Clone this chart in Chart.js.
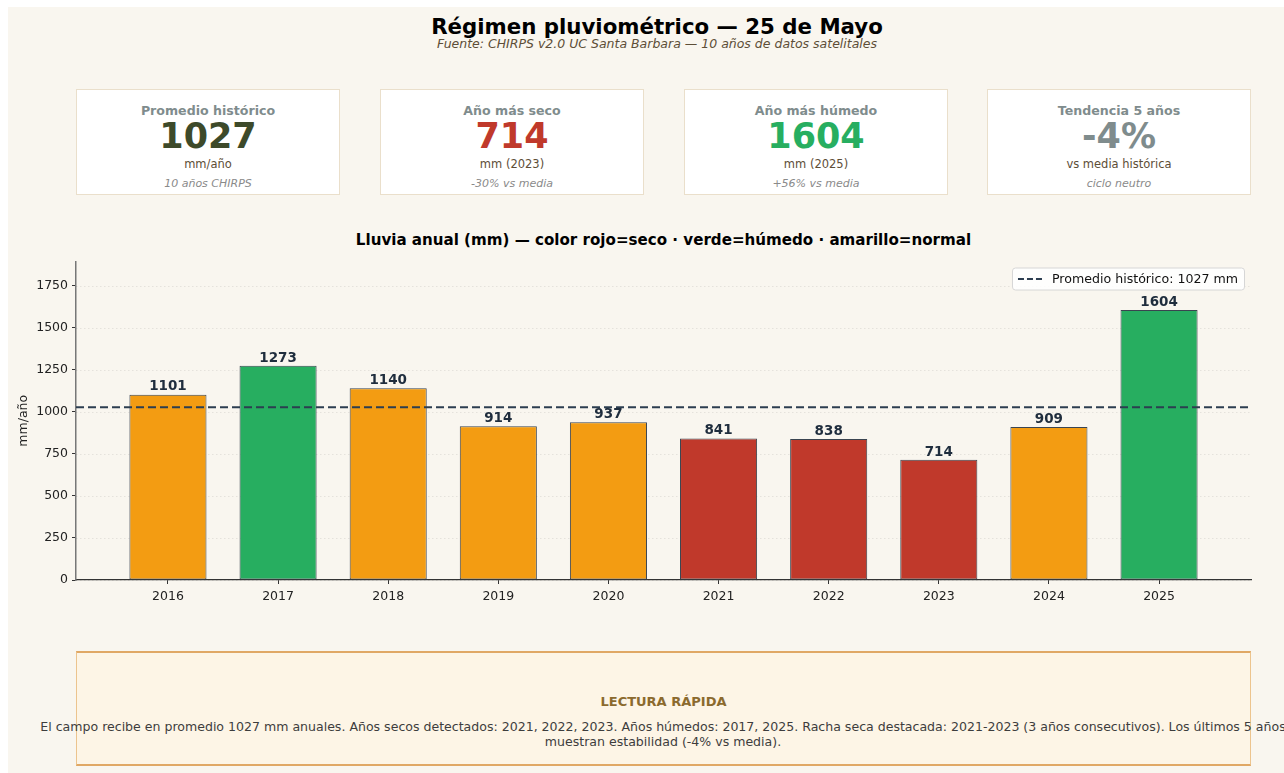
<!DOCTYPE html>
<html lang="es">
<head>
  <meta charset="UTF-8">
  <title>Régimen pluviométrico — 25 de Mayo</title>
  <script src="https://cdn.jsdelivr.net/npm/chart.js"></script>
  <style>
    body { margin: 0; background: #ffffff; font-family: "DejaVu Sans", sans-serif; }
    #page { position: relative; width: 1284px; height: 773px; overflow: hidden; }
    #panel { position: absolute; left: 8px; top: 7px; width: 1290px; height: 780px; background: #f9f6ef; }
    .abs { position: absolute; white-space: nowrap; text-align: center; }
    .card { position: absolute; top: 89px; width: 264px; height: 106px; background: #fff; border: 1px solid #eadfcb; box-sizing: border-box; }
    .card div { position: absolute; left: 0; right: 0; text-align: center; white-space: nowrap; }
    .lbl { top: 12px; font-weight: bold; font-size: 12.6px; color: #7f8c8d; line-height: 18px; }
    .big { top: 26px; font-weight: bold; font-size: 35px; line-height: 40px; }
    .unit { top: 66px; font-size: 11.5px; color: #5d4e37; line-height: 16px; }
    .note { top: 87px; font-size: 11px; font-style: italic; color: #8a8a8a; line-height: 14px; }
    #summary { position: absolute; left: 76px; top: 651px; width: 1175px; height: 115px; background: #fdf5e6;
      border: 1px solid #ecc48e; border-top: 2px solid #e0a865; border-bottom: 2px solid #e0a865; box-sizing: border-box; }
    #chartWrap { position: absolute; left: 0; top: 250px; width: 1284px; height: 380px; }
  </style>
</head>
<body>
<div id="page">
  <div id="panel"></div>

  <div class="abs" style="left:0;width:1314px;top:13px;line-height:28px;font-size:21.3px;font-weight:bold;color:#000;">Régimen pluviométrico — 25 de Mayo</div>
  <div class="abs" style="left:0;width:1314px;top:36px;line-height:16px;font-size:12.5px;font-style:italic;color:#5d4e37;">Fuente: CHIRPS v2.0 UC Santa Barbara — 10 años de datos satelitales</div>

  <div class="card" style="left:76px;">
    <div class="lbl">Promedio histórico</div>
    <div class="big" style="color:#3d4a2a;">1027</div>
    <div class="unit">mm/año</div>
    <div class="note">10 años CHIRPS</div>
  </div>
  <div class="card" style="left:380px;">
    <div class="lbl">Año más seco</div>
    <div class="big" style="color:#c0392b;">714</div>
    <div class="unit">mm (2023)</div>
    <div class="note">-30% vs media</div>
  </div>
  <div class="card" style="left:684px;">
    <div class="lbl">Año más húmedo</div>
    <div class="big" style="color:#27ae60;">1604</div>
    <div class="unit">mm (2025)</div>
    <div class="note">+56% vs media</div>
  </div>
  <div class="card" style="left:987px;">
    <div class="lbl">Tendencia 5 años</div>
    <div class="big" style="color:#7f8c8d;">-4%</div>
    <div class="unit">vs media histórica</div>
    <div class="note">ciclo neutro</div>
  </div>

  <div class="abs" style="left:76px;width:1175px;top:231px;line-height:18px;font-size:15.1px;font-weight:bold;color:#000;">Lluvia anual (mm) — color rojo=seco · verde=húmedo · amarillo=normal</div>

  <div id="chartWrap"><canvas id="rainChart" width="1284" height="380"></canvas></div>

  <div id="summary"></div>
  <div class="abs" style="left:76px;width:1175px;top:694px;line-height:16px;font-size:13px;font-weight:bold;color:#8b6a2e;">LECTURA RÁPIDA</div>
  <div class="abs" style="left:-237px;width:1800px;top:719px;line-height:15px;font-size:12.55px;color:#3d3d3d;">El campo recibe en promedio 1027 mm anuales. Años secos detectados: 2021, 2022, 2023. Años húmedos: 2017, 2025. Racha seca destacada: 2021-2023 (3 años consecutivos). Los últimos 5 años<br>muestran estabilidad (-4% vs media).</div>
</div>

<script>
  // datos anuales (CHIRPS)
  const years = ['2016', '2017', '2018', '2019', '2020', '2021', '2022', '2023', '2024', '2025'];
  const rainfall = [1101, 1273, 1140, 914, 937, 841, 838, 714, 909, 1604];
  const category = ['normal', 'humedo', 'normal', 'normal', 'normal', 'seco', 'seco', 'seco', 'normal', 'humedo'];
  const average = 1027;
  const yTicks = [0, 250, 500, 750, 1000, 1250, 1500, 1750];

  const colorFor = { seco: '#c0392b', humedo: '#27ae60', normal: '#f39c12' };
  const X_MIN = -0.835, X_MAX = years.length - 1 + 0.835;
  const Y_MAX = Math.max(...rainfall) * 1.18;

  // grilla punteada horizontal
  const gridPlugin = {
    id: 'dottedGrid',
    beforeDatasetsDraw(chart) {
      const { ctx, chartArea, scales } = chart;
      ctx.save();
      ctx.strokeStyle = 'rgba(0,0,0,0.08)';
      ctx.lineWidth = 1;
      ctx.setLineDash([1.5, 2.5]);
      yTicks.forEach(t => {
        const y = Math.round(scales.y.getPixelForValue(t)) + 0.5;
        ctx.beginPath();
        ctx.moveTo(chartArea.left, y);
        ctx.lineTo(chartArea.right, y);
        ctx.stroke();
      });
      ctx.restore();
    }
  };

  // etiquetas de valor sobre cada barra + leyenda dentro del eje
  const labelPlugin = {
    id: 'barLabels',
    afterDatasetsDraw(chart) {
      const { ctx, chartArea } = chart;
      const meta = chart.getDatasetMeta(0);
      ctx.save();
      ctx.font = 'bold 13.5px "DejaVu Sans"';
      ctx.fillStyle = '#1f2d3d';
      ctx.textAlign = 'center';
      ctx.textBaseline = 'bottom';
      meta.data.forEach((bar, i) => {
        ctx.fillText(String(rainfall[i]), bar.x, bar.y - 1);
      });

      // leyenda
      const text = 'Promedio histórico: ' + average + ' mm';
      ctx.font = '12.6px "DejaVu Sans"';
      const w = ctx.measureText(text).width + 46;
      const h = 22;
      const x = chartArea.right - 7 - w;
      const y = chartArea.top + 6;
      ctx.fillStyle = 'rgba(255,255,255,0.85)';
      ctx.strokeStyle = '#d6d6d6';
      ctx.lineWidth = 1;
      ctx.setLineDash([]);
      ctx.beginPath();
      ctx.roundRect(x + 0.5, y + 0.5, w, h, 3);
      ctx.fill();
      ctx.stroke();
      ctx.strokeStyle = '#2c3e50';
      ctx.lineWidth = 2;
      ctx.setLineDash([6, 3]);
      ctx.beginPath();
      ctx.moveTo(x + 6, y + h / 2 + 0.5);
      ctx.lineTo(x + 31, y + h / 2 + 0.5);
      ctx.stroke();
      ctx.fillStyle = '#111';
      ctx.textAlign = 'left';
      ctx.textBaseline = 'middle';
      ctx.fillText(text, x + 40, y + h / 2 + 1);
      ctx.restore();
    }
  };

  const ctx = document.getElementById('rainChart').getContext('2d');
  new Chart(ctx, {
    type: 'bar',
    data: {
      datasets: [
        {
          type: 'bar',
          data: rainfall.map((v, i) => ({ x: i, y: v })),
          backgroundColor: category.map(c => colorFor[c]),
          borderColor: '#3a4450',
          borderWidth: 1,
          borderSkipped: false,
          categoryPercentage: 1,
          barPercentage: 0.7,
          order: 2
        },
        {
          type: 'line',
          label: 'Promedio histórico: ' + average + ' mm',
          data: [{ x: X_MIN, y: average }, { x: X_MAX, y: average }],
          borderColor: '#2c3e50',
          borderWidth: 2,
          borderDash: [8, 4],
          pointRadius: 0,
          order: 1
        }
      ]
    },
    options: {
      responsive: false,
      animation: false,
      layout: { padding: { top: 10, right: 33, left: 0, bottom: 0 } },
      plugins: { legend: { display: false }, tooltip: { enabled: false } },
      scales: {
        x: {
          type: 'linear',
          offset: false,
          min: X_MIN,
          max: X_MAX,
          afterBuildTicks: s => { s.ticks = years.map((_, i) => ({ value: i })); },
          afterFit: s => { s.height = 50; },
          ticks: {
            callback: v => years[v],
            font: { family: 'DejaVu Sans', size: 12.5 },
            color: '#222',
            maxRotation: 0,
            padding: 5
          },
          grid: { offset: false, drawOnChartArea: false, drawTicks: true, tickLength: 4, tickColor: '#333' },
          border: { color: '#333', width: 1.2 }
        },
        y: {
          min: 0,
          max: Y_MAX,
          afterBuildTicks: s => { s.ticks = yTicks.map(v => ({ value: v })); },
          afterFit: s => { s.width = 76; },
          ticks: {
            callback: v => String(v),
            font: { family: 'DejaVu Sans', size: 12.5 },
            color: '#222',
            padding: 4
          },
          title: { display: true, text: 'mm/año', font: { family: 'DejaVu Sans', size: 12.5 }, color: '#222', padding: { top: 16, bottom: 0 } },
          grid: { drawOnChartArea: false, drawTicks: true, tickLength: 4, tickColor: '#333' },
          border: { color: '#777', width: 1.5 }
        }
      }
    },
    plugins: [gridPlugin, labelPlugin]
  });
</script>
</body>
</html>
